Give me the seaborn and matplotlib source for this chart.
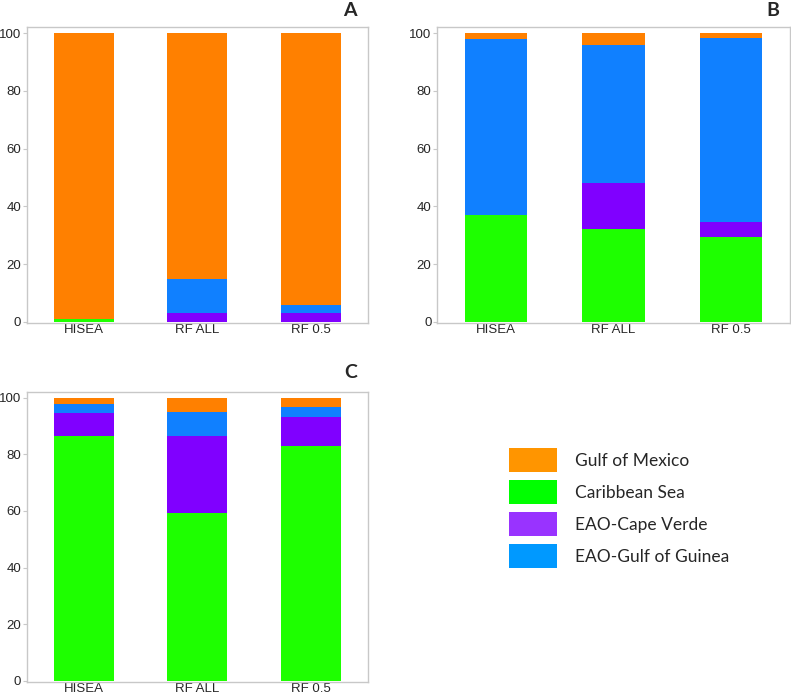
import matplotlib
matplotlib.use("Agg")
import matplotlib.pyplot as plt
import seaborn as sns
import numpy as np
import pandas as pd
from matplotlib.patches import Patch

# Data (percent of assignments per origin)
methods = ["HISEA", "RF ALL", "RF 0.5"]
regions = ["Caribbean Sea", "EAO-Cape Verde", "EAO-Gulf of Guinea", "Gulf of Mexico"]

# panel A
a_caribbean = [1.0, 0.0, 0.0]
a_capeverde = [0.0, 3.0, 3.0]
a_guinea    = [0.0, 11.7, 3.0]
a_mexico    = [99.0, 85.3, 94.0]

# panel B
b_caribbean = [37.0, 32.3, 29.5]
b_capeverde = [0.0, 15.9, 5.0]
b_guinea    = [61.0, 47.8, 63.8]
b_mexico    = [2.0, 4.0, 1.7]

# panel C
c_caribbean = [86.3, 59.4, 82.8]
c_capeverde = [8.2, 27.0, 10.4]
c_guinea    = [3.3, 8.6, 3.4]
c_mexico    = [2.2, 5.0, 3.4]

bar_colors = {
    "Caribbean Sea": "#1EFF00",
    "EAO-Cape Verde": "#8000FF",
    "EAO-Gulf of Guinea": "#1080FF",
    "Gulf of Mexico": "#FF8000",
}
legend_order = ["Gulf of Mexico", "Caribbean Sea", "EAO-Cape Verde", "EAO-Gulf of Guinea"]
legend_colors = ["#FF9500", "#00FF00", "#9933FF", "#0099FF"]

panels = {
    "A": [a_caribbean, a_capeverde, a_guinea, a_mexico],
    "B": [b_caribbean, b_capeverde, b_guinea, b_mexico],
    "C": [c_caribbean, c_capeverde, c_guinea, c_mexico],
}

sns.set_style("white")
plt.rcParams["font.family"] = ["Liberation Sans", "DejaVu Sans"]

fig = plt.figure(figsize=(7.91, 7.00), dpi=100)
rects = {
    "A": [0.034, 0.539, 0.431, 0.422],
    "B": [0.5525, 0.539, 0.446, 0.422],
    "C": [0.034, 0.026, 0.431, 0.414],
}
letter_pos = {"A": (350 / 791, 1 - 11 / 700), "B": (773 / 791, 1 - 11 / 700),
              "C": (351 / 791, 1 - 373 / 700)}

for key, series in panels.items():
    ax = fig.add_axes(rects[key])
    df = pd.DataFrame(np.array(series).T, columns=regions)
    df["method"] = methods
    cum = df[regions].cumsum(axis=1)
    # draw from the top of the stack down so lower segments overlay
    for reg in regions[::-1]:
        sns.barplot(x=df["method"], y=cum[reg], color=bar_colors[reg],
                    width=0.53, linewidth=0, saturation=1, ax=ax, order=methods)
    ax.set_xlim(-0.5, 2.5)
    ax.set_ylim(-0.3, 102)
    ax.set_yticks([0, 20, 40, 60, 80, 100])
    ax.set_xlabel("")
    ax.set_ylabel("")
    for sp in ax.spines.values():
        sp.set_color("#c8c8c8")
        sp.set_linewidth(1.0)
    ax.tick_params(axis="y", length=3, color="#c8c8c8", labelsize=9.5, pad=1,
                   left=True)
    ax.tick_params(axis="x", length=0, labelsize=9.5, pad=1)
    fig.text(*letter_pos[key], key, family=["Lato", "DejaVu Sans"],
             fontweight="bold", fontsize=14, ha="center", va="center")

handles = [Patch(facecolor=c, edgecolor="none") for c in legend_colors]
fig.legend(handles, legend_order, loc="center left", bbox_to_anchor=(0.632, 0.274),
           frameon=False, borderpad=0, handlelength=2.8, handleheight=1.75,
           handletextpad=1.0, labelspacing=0.45,
           prop={"family": "Lato", "size": 12.5})

fig.savefig("out.png", dpi=100)
